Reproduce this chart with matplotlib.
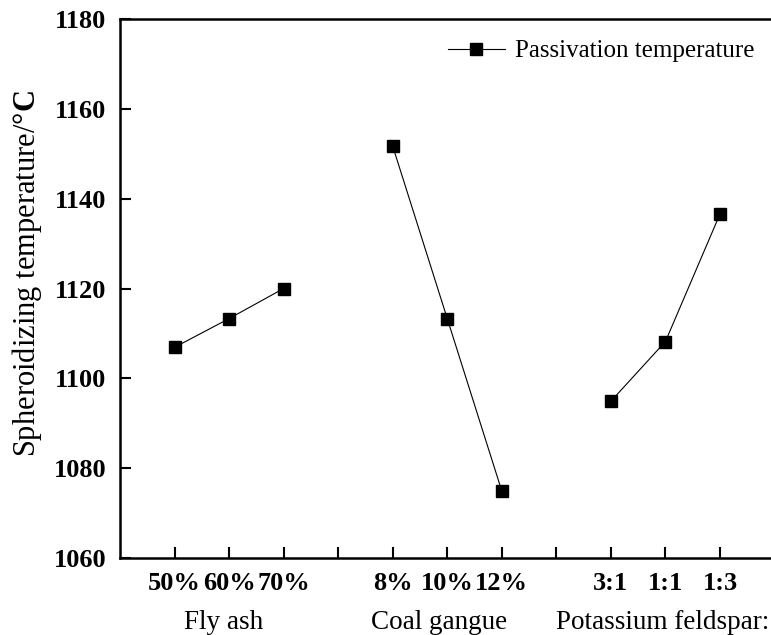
import matplotlib
matplotlib.use('Agg')
import matplotlib.pyplot as plt

plt.rcParams['font.family'] = ['Liberation Serif', 'DejaVu Serif']
plt.rcParams['mathtext.fontset'] = 'custom'
plt.rcParams['mathtext.rm'] = 'Liberation Serif'
plt.rcParams['mathtext.bf'] = 'Liberation Serif:bold'

# data
positions = [1, 2, 3, 5, 6, 7, 9, 10, 11]
tick_labels = ['50%', '60%', '70%', '8%', '10%', '12%', '3:1', '1:1', '1:3']
groups = ['Fly ash', 'Coal gangue', 'Potassium feldspar:']
group_pos = [1.9, 5.85, 9.95]
temps = [1106.9, 1113.3, 1120.0, 1151.7, 1113.3, 1074.9, 1094.9, 1108.2, 1136.6]

fig = plt.figure(figsize=(7.71, 6.35), dpi=100)
ax = fig.add_axes([0.1556, 0.1213, 0.849, 0.8487])

for i in range(3):
    xs = positions[i * 3:(i + 1) * 3]
    ys = temps[i * 3:(i + 1) * 3]
    ax.plot(xs, ys, color='black', lw=0.8, marker='s', markersize=8,
            label='Passivation temperature' if i == 0 else None)

ax.set_xlim(0, 12)
ax.set_ylim(1060, 1180)
ax.set_yticks(range(1060, 1181, 20))
ax.set_xticks(range(1, 12))
lab = {p: t for p, t in zip(positions, tick_labels)}
ax.set_xticklabels([lab.get(p, '') for p in range(1, 12)])

for lbl in ax.get_xticklabels() + ax.get_yticklabels():
    lbl.set_fontweight('bold')
    lbl.set_fontsize(19)

ax.tick_params(direction='in', length=8, width=1.5, pad=10)
for s in ax.spines.values():
    s.set_linewidth(1.8)

ax.set_ylabel(r'Spheroidizing temperature/$\mathbf{°C}$', fontsize=22)
ax.yaxis.set_label_coords(-0.116, 0.527)

for g, gp in zip(groups, group_pos):
    ax.text(gp, -0.119, g, transform=ax.get_xaxis_transform(),
            ha='center', va='center', fontsize=19.5)

ax.legend(loc='upper right', bbox_to_anchor=(0.985, 0.98), borderaxespad=0,
          frameon=False, fontsize=18, handlelength=2.3, handletextpad=0.4)

fig.savefig('out.png', dpi=100)
